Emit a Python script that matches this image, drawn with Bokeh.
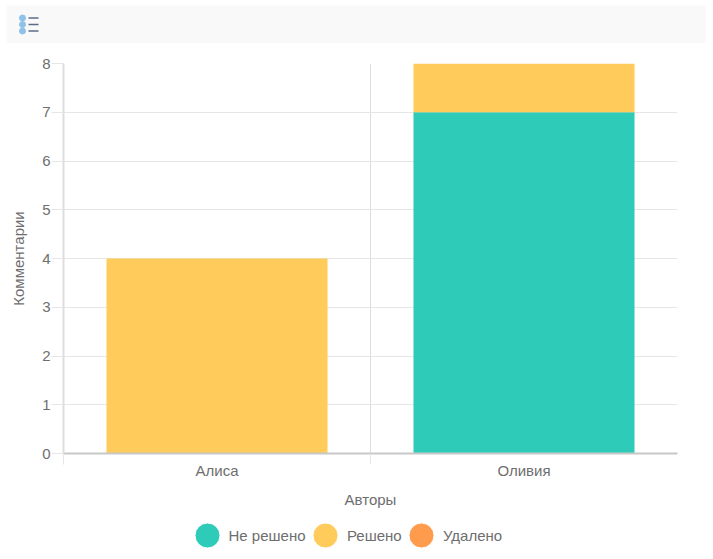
from bokeh.core.properties import value
from bokeh.embed import file_html
from bokeh.layouts import column, row
from bokeh.models import FixedTicker, Range1d
from bokeh.plotting import figure
from bokeh.resources import INLINE

authors = ["Алиса", "Оливия"]
statuses = ["Не решено", "Решено", "Удалено"]
not_resolved = [0, 7]
resolved = [4, 1]
deleted = [0, 0]
y_ticks = [0, 1, 2, 3, 4, 5, 6, 7, 8]

colors = ["#2ecbb8", "#ffcb5a", "#ff9b4c"]
font = "Liberation Sans"
text_color = "#6e6e6e"
grid_color = "#e6e6e6"


def bare_figure(height, background):
	fig = figure(width=700, height=height, x_range=Range1d(0, 700), y_range=Range1d(height, 0),
		output_backend="svg", toolbar_location=None, min_border=0,
		background_fill_color=background, border_fill_color=background)
	fig.axis.visible = False
	fig.grid.visible = False
	fig.outline_line_color = None
	return fig


# grey bar with the list icon
header = bare_figure(38, "#f9f9f9")
header.scatter([16, 16, 16], [12.5, 19, 25.5], size=6, color="#8fc1e9")
header.segment([22, 22, 22], [12.5, 19, 25.5], [32, 32, 32], [12.5, 19, 25.5], line_color="#5b6b88", line_width=1.5)

# main chart
x = [0.5, 1.5]
source = dict(x=x, not_resolved=not_resolved, resolved=resolved, deleted=deleted)
p = figure(frame_width=614, frame_height=390, x_range=Range1d(0, 2), y_range=Range1d(0, 8),
	output_backend="svg", toolbar_location=None,
	min_border_left=57, min_border_right=29, min_border_top=20, min_border_bottom=61)
p.outline_line_color = None
p.vbar_stack(["not_resolved", "resolved", "deleted"], x="x", width=0.72, color=colors, line_color=None, source=source)

p.xaxis.ticker = FixedTicker(ticks=x, minor_ticks=[0, 1])
p.xaxis.major_label_overrides = {x[i]: authors[i] for i in range(len(x))}
p.xaxis.major_tick_line_color = None
p.xaxis.minor_tick_line_color = grid_color
p.xaxis.minor_tick_out = 11
p.xaxis.minor_tick_in = 0
p.xaxis.axis_line_color = "#c8c8c8"
p.xaxis.axis_line_width = 2
p.xaxis.axis_label = "Авторы"
p.xaxis.axis_label_standoff = 9
p.xaxis.major_label_standoff = -3

p.yaxis.ticker = FixedTicker(ticks=y_ticks)
p.yaxis.minor_tick_line_color = None
p.yaxis.major_tick_line_color = grid_color
p.yaxis.major_tick_out = 12
p.yaxis.major_tick_in = 0
p.yaxis.axis_line_color = "#dddddd"
p.yaxis.axis_line_width = 2
p.yaxis.axis_label = "Комментарии"
p.yaxis.axis_label_standoff = 12
p.yaxis.major_label_standoff = 1

for axis in [p.xaxis, p.yaxis]:
	axis.major_label_text_font = font
	axis.major_label_text_font_size = "15px"
	axis.major_label_text_color = text_color
	axis.axis_label_text_font = font
	axis.axis_label_text_font_size = "15px"
	axis.axis_label_text_font_style = "normal"
	axis.axis_label_text_color = text_color

p.xgrid.ticker = FixedTicker(ticks=[1])
p.xgrid.grid_line_color = "#dddddd"
p.ygrid.ticker = FixedTicker(ticks=y_ticks)
p.ygrid.grid_line_color = grid_color

# legend row, big dots do not fit bokeh's own legend
legend = bare_figure(36, "#ffffff")
legend.scatter([201, 319, 415], [21, 21, 21], size=25, color=colors, line_color="#ffffff")
legend.text([222, 340.5, 436.5], [21, 21, 21], text=statuses, text_font=value(font), text_font_size="15px",
	text_color=text_color, text_baseline="middle")

page = column(row(header), row(p), row(legend), spacing=0, margin=(5, 0, 0, 6))
open("out.html", "w").write(file_html(page, INLINE))
